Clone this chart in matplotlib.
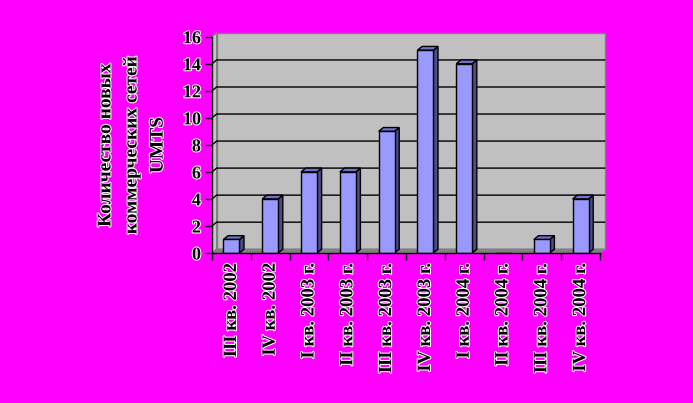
import numpy as np
import matplotlib
matplotlib.use('Agg')
import matplotlib.pyplot as plt
from matplotlib.patches import Polygon
import matplotlib.patheffects as pe

# Data
quarters = ["III кв. 2002", "IV кв. 2002", "I кв. 2003 г.", "II кв. 2003 г.",
            "III кв. 2003 г.", "IV кв. 2003 г.", "I кв. 2004 г.", "II кв. 2004 г.",
            "III кв. 2004 г.", "IV кв. 2004 г."]
new_networks = [1, 4, 6, 6, 9, 15, 14, 0, 1, 4]
y_ticks = [0, 2, 4, 6, 8, 10, 12, 14, 16]

plt.rcParams['font.family'] = ['Liberation Serif', 'DejaVu Serif']
plt.rcParams['font.weight'] = 'bold'
halo = [pe.withStroke(linewidth=1.5, foreground='white')]

fig = plt.figure(figsize=(6.93, 4.03), dpi=100, facecolor='#FF00FF')
W, H = 693, 403
ax = fig.add_axes([212 / W, (H - 253) / H, (600 - 212) / W, (253 - 36.7) / H])
ax.set_xlim(0, len(quarters))
ax.set_ylim(0, 16)
ax.patch.set_visible(False)

n = len(quarters)
dx, dy = 0.12, 0.28  # 3D depth in data units

# back wall, side wall, floor
ax.add_patch(Polygon([(dx, dy), (n + dx, dy), (n + dx, 16 + dy), (dx, 16 + dy)],
                     closed=True, facecolor='#C0C0C0', edgecolor='#808080', lw=1,
                     clip_on=False, zorder=0))
ax.add_patch(Polygon([(0, 0), (dx, dy), (dx, 16 + dy), (0, 16)],
                     closed=True, facecolor='#C8C8C8', edgecolor='#808080', lw=1,
                     clip_on=False, zorder=0))
ax.add_patch(Polygon([(0, 0), (n, 0), (n + dx, dy), (dx, dy)],
                     closed=True, facecolor='#808080', edgecolor='#808080', lw=1,
                     clip_on=False, zorder=0.5))

# gridlines
for v in y_ticks[1:-1]:
    ax.plot([0, dx, n + dx], [v, v + dy, v + dy], color='black', lw=1,
            clip_on=False, zorder=1)

# bars
x = np.arange(n) + 0.5
bw = 0.41
bars = ax.bar(x, new_networks, width=bw, color='#9999FF', edgecolor='black',
              linewidth=1, zorder=3)
for b, v in zip(bars, new_networks):
    if v == 0:
        continue
    x0 = b.get_x()
    x1 = x0 + b.get_width()
    ax.add_patch(Polygon([(x1, 0), (x1 + dx, dy), (x1 + dx, v + dy), (x1, v)],
                         closed=True, facecolor='#4C4C80', edgecolor='black',
                         lw=1, clip_on=False, zorder=2.9))
    ax.add_patch(Polygon([(x0, v), (x1, v), (x1 + dx, v + dy), (x0 + dx, v + dy)],
                         closed=True, facecolor='#7272C8', edgecolor='black',
                         lw=1, clip_on=False, zorder=2.9))

# axes
for s in ['top', 'right']:
    ax.spines[s].set_visible(False)
for s in ['left', 'bottom']:
    ax.spines[s].set_color('black')
    ax.spines[s].set_linewidth(1)
    ax.spines[s].set_zorder(4)

ax.set_yticks(y_ticks)
ax.set_yticklabels([str(t) for t in y_ticks], fontsize=13, fontweight='bold',
                   path_effects=halo)
ax.tick_params(axis='y', direction='out', length=5, width=1, pad=3)

ax.set_xticks(np.arange(n + 1))
ax.set_xticklabels([])
ax.set_xticks(x, minor=True)
ax.set_xticklabels(quarters, minor=True, rotation=90, fontsize=13.5,
                   fontweight='bold', path_effects=halo)
ax.tick_params(axis='x', which='major', direction='out', length=5, width=1)
ax.tick_params(axis='x', which='minor', length=0, pad=7)

fig.text(132 / W, 1 - 145 / H, "Количество новых\nкоммерческих сетей\nUMTS",
         rotation=90, ha='center', va='center', fontsize=14, fontweight='bold',
         linespacing=1.7, multialignment='center', path_effects=halo)

fig.savefig('out.png', dpi=100, facecolor=fig.get_facecolor())
